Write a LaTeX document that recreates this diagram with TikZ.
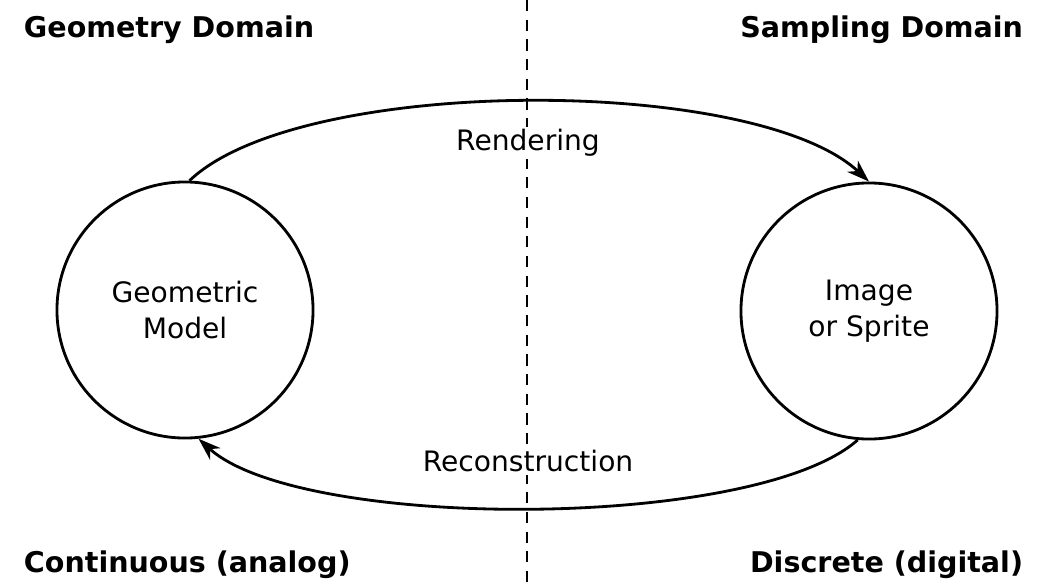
\documentclass[tikz,border=0pt]{standalone}
\usepackage{fontspec}
\setmainfont{DejaVu Sans}
\usetikzlibrary{arrows.meta}

\begin{document}
\begin{tikzpicture}[x=0.025cm,y=-0.025cm,
                    every node/.style={font=\fontsize{20}{26}\selectfont},
                    domainlabel/.style={font=\fontsize{20.3}{26}\selectfont\bfseries},
                    model/.style={draw,circle,line width=2pt,minimum size=6.4cm,inner sep=0pt,align=center},
                    flow/.style={line width=2pt,-{Stealth[length=16pt,width=11pt,inset=5pt]}}]
                    \useasboundingbox (0,0) rectangle (1040,586);
                    % the two domains
                    \coordinate (top) at (527,0);
                    \coordinate (bottom) at (527,586);
                    \draw[line width=1.3pt,dash pattern=on 8pt off 6pt] (top) -- (bottom);
                    \node[domainlabel,anchor=west] (geo) at (19,30) {Geometry Domain};
                    \node[domainlabel,anchor=east] (samp) at (1028,30) {Sampling Domain};
                    \node[domainlabel,anchor=west] (cont) at (19,565) {Continuous (analog)};
                    \node[domainlabel,anchor=east] (disc) at (1028,565) {Discrete (digital)};
                    % models
                    \node[model] (geomodel) at (185,310) {Geometric\\Model};
                    \node[model] (image) at (869,311) {Image\\or Sprite};
                    \draw[flow] (geomodel.88) .. controls (300,75) and (755,75) .. (image.north);
                    \draw[flow] (image.265) .. controls (755,531) and (300,531) .. (geomodel.-84);
                    \node[fill=white,inner sep=2pt] (render) at (528,143) {Rendering};
                    \node[fill=white,inner sep=2pt] (recon) at (528,461) {Reconstruction};
\end{tikzpicture}
\end{document}
